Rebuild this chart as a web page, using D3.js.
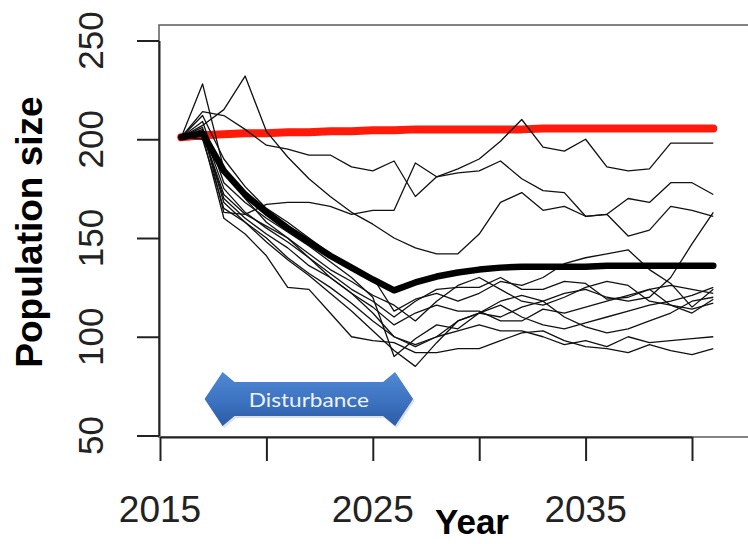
<!DOCTYPE html>
<html>
<head>
<meta charset="utf-8">
<script src="https://cdn.jsdelivr.net/npm/d3@7"></script>
<style>
  body { margin: 0; background: #fff; }
  svg { display: block; font-family: "Liberation Sans", Arial, sans-serif; }
</style>
</head>
<body>
<div id="chart"></div>
<script>
// Data
const years = [2016, 2017, 2018, 2019, 2020, 2021, 2022, 2023, 2024, 2025, 2026, 2027, 2028,
               2029, 2030, 2031, 2032, 2033, 2034, 2035, 2036, 2037, 2038, 2039, 2040, 2041];

// undisturbed population (red)
const baseline = [201, 202, 202.5, 203, 203, 203.5, 203.5, 204, 204, 204.5, 204.5, 205, 205,
                  205, 205, 205, 205, 205.5, 205.5, 205.5, 205.5, 205.5, 205.5, 205.5, 205.5, 205.5];

// mean of the simulations (thick black)
const meanRun = [201, 203, 184, 172, 163, 155, 148, 141, 135, 129, 123.5, 127.5, 130.5,
                 132.5, 134, 135, 135.5, 135.5, 135.5, 135.5, 136, 136, 136, 136, 136, 136];

// single simulation runs (thin black)
const run1  = [201, 214, 212, 205, 197, 195, 192, 192, 186, 184, 189, 171, 181, 185, 190, 199, 210, 196, 194, 200, 186, 184, 185, 198, 198, 198];
const run2  = [201, 206, 163, 162, 167, 168, 168, 166, 162, 164, 164, 188, 181, 183, 184, 189, 180, 174, 173, 161, 162, 170, 168, 178, 178, 172];
const run3  = [201, 207, 215, 232, 204, 191, 180, 171, 163, 157, 150, 145, 142, 142, 152, 168, 173, 164, 166, 161, 162, 151, 154, 166, 164, 161];
const run4  = [201, 228, 185, 170, 158, 150, 140, 130, 122, 112, 100, 95, 100, 108, 112, 110, 115, 118, 122, 124, 120, 118, 120, 130, 147, 163];
const run5  = [201, 212, 190, 176, 165, 158, 150, 142, 136, 130, 113, 119, 122, 118, 122, 128, 126, 130, 137, 140, 142, 144, 134, 127, 115, 124];
const run6  = [201, 205, 175, 163, 155, 148, 140, 132, 124, 118, 110, 118, 124, 125, 125, 130, 124, 124, 128, 127, 119, 120, 124, 126, 124, 122];
const run7  = [201, 203, 170, 160, 152, 145, 136, 130, 122, 115, 106, 112, 116, 113, 113, 108, 108, 114, 112, 115, 118, 121, 124, 116, 112, 119];
const run8  = [201, 200, 165, 158, 150, 140, 132, 125, 117, 108, 100, 96, 100, 103, 106, 103, 103, 100, 96, 98, 95, 100, 97, 98, 99, 100];
const run9  = [201, 202, 160, 152, 141, 125, 124, 112, 100, 98, 97, 92, 92, 94, 94, 98, 102, 103, 98, 95, 94, 92, 96, 93, 91, 94];
const run10 = [201, 204, 168, 158, 148, 139, 131, 122, 113, 103, 93, 85, 97, 108, 112, 118, 121, 118, 110, 105, 102, 104, 108, 112, 118, 120];
const run11 = [201, 209, 178, 168, 160, 153, 146, 138, 130, 120, 90, 99, 106, 104, 112, 116, 110, 106, 104, 107, 110, 113, 116, 118, 121, 125];
const run12 = [201, 203, 172, 162, 156, 150, 142, 134, 128, 121, 116, 108, 118, 126, 130, 124, 118, 116, 120, 125, 128, 126, 118, 116, 114, 117];
const runs = [run1, run2, run3, run4, run5, run6, run7, run8, run9, run10, run11, run12];

const xTicks = [2015, 2020, 2025, 2030, 2035, 2040];
const xLabels = [2015, 2025, 2035];
const yTicks = [50, 100, 150, 200, 250];

const disturbance = {start: 2017, end: 2026, label: "Disturbance"};

// Size of the page and of the plot box
const width = 748, height = 544;
const box = {left: 159, top: 25, bottom: 437, right: 780};

const svg = d3.select("#chart")
  .append("svg")
    .attr("width", width)
    .attr("height", height);

// Scales
const x = d3.scaleLinear()
  .domain([2015, 2040])
  .range([160, 692]);

const y = d3.scaleLinear()
  .domain([50, 250])
  .range([435.5, 40.5]);

// Plot frame (runs off the right edge)
svg.append("rect")
    .attr("x", box.left)
    .attr("y", box.top)
    .attr("width", box.right - box.left)
    .attr("height", box.bottom - box.top)
    .attr("fill", "none")
    .attr("stroke", "#666")
    .attr("stroke-width", 1.6);

// X axis
const xAxis = svg.append("g")
    .attr("transform", `translate(0, ${box.bottom})`)
    .call(d3.axisBottom(x).tickValues(xTicks).tickSize(24).tickSizeOuter(0).tickFormat(""));
xAxis.select(".domain").attr("stroke", "#222").attr("stroke-width", 2);
xAxis.selectAll(".tick line").attr("stroke", "#222").attr("stroke-width", 2);

svg.append("g")
  .selectAll("text")
  .data(xLabels)
  .join("text")
    .attr("x", d => x(d))
    .attr("y", 522)
    .attr("text-anchor", "middle")
    .style("font-size", "37px")
    .attr("fill", "#222")
    .text(d => d);

// Y axis
const yAxis = svg.append("g")
    .attr("transform", `translate(${box.left}, 0)`)
    .call(d3.axisLeft(y).tickValues(yTicks).tickSize(22).tickSizeOuter(0).tickFormat(""));
yAxis.select(".domain").attr("stroke", "#222").attr("stroke-width", 2);
yAxis.selectAll(".tick line").attr("stroke", "#222").attr("stroke-width", 2);

svg.append("g")
  .selectAll("text")
  .data(yTicks)
  .join("text")
    .attr("transform", d => `translate(103, ${y(d)}) rotate(-90)`)
    .attr("text-anchor", "middle")
    .style("font-size", "35px")
    .attr("fill", "#222")
    .text(d => d);

// Axis titles
svg.append("text")
    .attr("transform", "translate(42, 232) rotate(-90)")
    .attr("text-anchor", "middle")
    .style("font-size", "37px")
    .style("font-weight", "bold")
    .text("Population size");

svg.append("text")
    .attr("x", 472)
    .attr("y", 534)
    .attr("text-anchor", "middle")
    .style("font-size", "35px")
    .style("font-weight", "bold")
    .text("Year");

// Lines
const line = d3.line()
  .x((d, i) => x(years[i]))
  .y(d => y(d));

svg.append("path")
    .datum(baseline)
    .attr("fill", "none")
    .attr("stroke", "#ff1a0a")
    .attr("stroke-width", 8)
    .attr("stroke-linejoin", "round")
    .attr("stroke-linecap", "round")
    .attr("d", line);

svg.append("g")
  .selectAll("path")
  .data(runs)
  .join("path")
    .attr("fill", "none")
    .attr("stroke", "#111")
    .attr("stroke-width", 1.3)
    .attr("stroke-linejoin", "round")
    .attr("d", line);

svg.append("path")
    .datum(meanRun)
    .attr("fill", "none")
    .attr("stroke", "#000")
    .attr("stroke-width", 6.5)
    .attr("stroke-linejoin", "round")
    .attr("stroke-linecap", "round")
    .attr("d", line);

// Disturbance arrow
const defs = svg.append("defs");
const grad = defs.append("linearGradient")
    .attr("id", "arrowFill")
    .attr("x1", 0).attr("y1", 0).attr("x2", 0).attr("y2", 1);
grad.append("stop").attr("offset", "0%").attr("stop-color", "#5189d4");
grad.append("stop").attr("offset", "55%").attr("stop-color", "#3c72c0");
grad.append("stop").attr("offset", "100%").attr("stop-color", "#2c5ca6");

const x0 = x(disturbance.start) + 2, x1 = x(disturbance.end) + 19;
const mid = 399, headLen = 22, headH = 27, shaftH = 17;
const arrowPts = [
  [x0, mid], [x0 + headLen - 4, mid - headH], [x0 + headLen + 8, mid - shaftH],
  [x1 - headLen - 8, mid - shaftH], [x1 - headLen + 4, mid - headH], [x1, mid],
  [x1 - headLen + 4, mid + headH], [x1 - headLen - 8, mid + shaftH],
  [x0 + headLen + 8, mid + shaftH], [x0 + headLen - 4, mid + headH]
];

svg.append("polygon")
    .attr("points", arrowPts.map(p => p.join(",")).join(" "))
    .attr("transform", "translate(1.5, 2)")
    .attr("fill", "#b8c4d6")
    .attr("opacity", 0.5);

svg.append("polygon")
    .attr("points", arrowPts.map(p => p.join(",")).join(" "))
    .attr("fill", "url(#arrowFill)");

svg.append("text")
    .attr("x", (x0 + x1) / 2)
    .attr("y", 407)
    .attr("text-anchor", "middle")
    .attr("textLength", 120)
    .attr("lengthAdjust", "spacingAndGlyphs")
    .style("font-family", "Lato, 'Open Sans', sans-serif")
    .style("font-size", "20px")
    .attr("fill", "#eef3fb")
    .text(disturbance.label);
</script>
</body>
</html>
